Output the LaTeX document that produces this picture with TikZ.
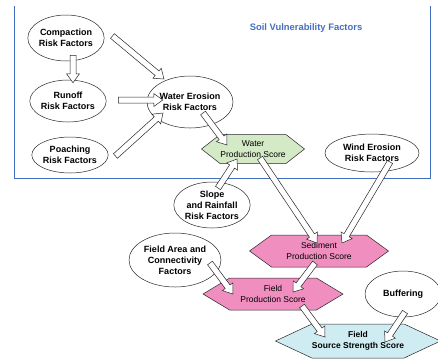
\documentclass[tikz,border=0pt]{standalone}
\usepackage{fontspec}
\setmainfont{Liberation Sans}
\usetikzlibrary{shapes, calc}
\definecolor{frameblue}{RGB}{68,110,192}
\definecolor{hexgreen}{RGB}{212,233,198}
\definecolor{hexpink}{RGB}{240,142,192}
\definecolor{hexcyan}{RGB}{208,236,243}

\tikzset{
  riskbox/.style={ellipse, draw=black!85, fill=white, line width=0.5pt, inner sep=0pt,
    align=center, font=\fontsize{9}{11}\selectfont\bfseries},
  scorebox/.style={signal, signal to=west and east, draw=black!85, line width=0.5pt,
    inner sep=0pt, align=center, font=\fontsize{8.5}{10.5}\selectfont},
  fatarrow/.style={draw=black!85, fill=white, line width=0.5pt, to path={
    ($(\tikztostart)!3pt!90:(\tikztotarget)$)
    -- ($(\tikztotarget)!9pt!(\tikztostart)!3pt!-90:(\tikztostart)$)
    -- ($(\tikztotarget)!9pt!(\tikztostart)!6.5pt!-90:(\tikztostart)$)
    -- (\tikztotarget)
    -- ($(\tikztotarget)!9pt!(\tikztostart)!6.5pt!90:(\tikztostart)$)
    -- ($(\tikztotarget)!9pt!(\tikztostart)!3pt!90:(\tikztostart)$)
    -- ($(\tikztostart)!3pt!-90:(\tikztotarget)$) -- cycle}},
}

\begin{document}
\begin{tikzpicture}[x=1pt, y=-1pt]
  \useasboundingbox (0,0) rectangle (438,360);

  % Soil vulnerability frame
  \draw[frameblue, line width=0.8pt] (14,6) -- (14,178) -- (430,178) -- (430,6);
  \node[font=\fontsize{9.4}{11}\selectfont\bfseries, text=frameblue] (title) at (306,28) {Soil Vulnerability Factors};

  % Risk factors
  \node[riskbox, minimum width=76pt, minimum height=46pt] (comp) at (66,38) {Compaction\\Risk Factors};
  \node[riskbox, minimum width=70pt, minimum height=42pt] (runoff) at (68,101) {Runoff\\Risk Factors};
  \node[riskbox, minimum width=68pt, minimum height=36pt] (poach) at (70,155) {Poaching\\Risk Factors};
  \node[riskbox, minimum width=86pt, minimum height=52pt] (we) at (190,102) {Water Erosion\\Risk Factors};
  \node[riskbox, minimum width=94pt, minimum height=38pt] (wind) at (372,153) {Wind Erosion\\Risk Factors};
  \node[riskbox, minimum width=72pt, minimum height=46pt] (slope) at (212,205) {Slope\\and Rainfall\\Risk Factors};
  \node[riskbox, minimum width=92pt, minimum height=54pt] (farea) at (175,260) {Field Area and\\Connectivity\\Factors};
  \node[riskbox, minimum width=76pt, minimum height=46pt] (buff) at (403,294) {Buffering};

  % Scores
  \node[scorebox, fill=hexgreen, signal pointer angle=76, minimum width=103pt, minimum height=29pt] (wps) at (253,149) {Water\\Production Score};
  \node[scorebox, fill=hexpink, signal pointer angle=72, minimum width=139pt, minimum height=32pt] (sps) at (319,251) {Sediment\\Production Score};
  \node[scorebox, fill=hexpink, signal pointer angle=62, minimum width=140pt, minimum height=32pt] (fps) at (273,294) {Field\\Production Score};
  \node[scorebox, fill=hexcyan, signal pointer angle=50, minimum width=162pt, minimum height=34pt, font=\fontsize{8.5}{10.5}\selectfont\bfseries] (fss) at (358,341) {Field\\Source Strength Score};

  % Block arrows
  \draw[fatarrow] ([shift={(8,-2)}]comp.east) to ([shift={(-26,-23)}]we.center);
  \draw[fatarrow] ([shift={(7,-6)}]comp.south) to ([shift={(5,3)}]runoff.north);
  \draw[fatarrow] ([shift={(12,-1)}]runoff.east) to ([shift={(16,-2)}]we.west);
  \draw[fatarrow] ([shift={(7,1)}]poach.east) to ([shift={(-27,11)}]we.center);
  \draw[fatarrow] ([shift={(13,11)}]we.center) to ([shift={(-26,-4)}]wps.center);
  \draw[fatarrow] ([shift={(6,-17)}]slope.center) to ([shift={(-16,10)}]wps.center);
  \draw[fatarrow] ([shift={(7,9)}]wps.center) to ([shift={(-2,-8)}]sps.center);
  \draw[fatarrow] ([shift={(18,9)}]wind.center) to ([shift={(23,-8)}]sps.center);
  \draw[fatarrow] ([shift={(35,3)}]farea.center) to ([shift={(-40,0)}]fps.center);
  \draw[fatarrow] ([shift={(-4,12)}]sps.center) to ([shift={(20,-2)}]fps.center);
  \draw[fatarrow] ([shift={(29,12)}]fps.center) to ([shift={(-33,-4)}]fss.center);
  \draw[fatarrow] ([shift={(2,18)}]buff.center) to ([shift={(27,1)}]fss.center);
\end{tikzpicture}
\end{document}
